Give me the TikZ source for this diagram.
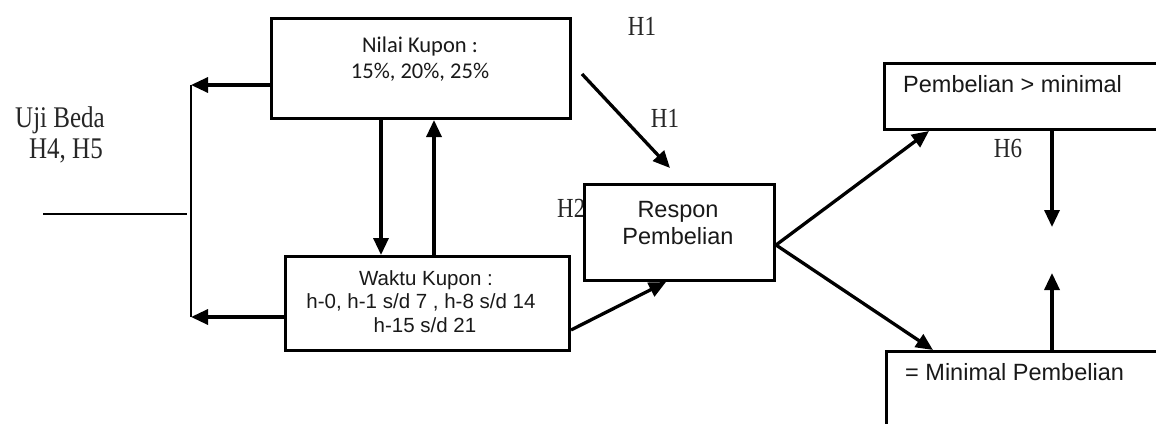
\documentclass[tikz,border=0pt]{standalone}
\usepackage{fontspec}
\setmainfont{Liberation Serif}
\newfontfamily\arialf{Liberation Sans}
\newfontfamily\calibf{Carlito}
\usetikzlibrary{arrows.meta}

\begin{document}
\begin{tikzpicture}[x=1pt,y=-1pt,
  box/.style={draw,line width=3pt,fill=white,inner sep=0pt,anchor=north west},
  arr/.style={line width=3.3pt,-{Triangle[length=17pt,width=15pt]}},
  plain/.style={line width=2.6pt},
  boxtext/.style={font=\arialf\fontsize{23.5}{27}\selectfont,text=black!90,inner sep=0pt,anchor=base},
  nilaitext/.style={font=\calibf\fontsize{22.5}{26}\selectfont,text=black!90,inner sep=0pt,anchor=base},
  waktutext/.style={font=\arialf\fontsize{20.5}{24}\selectfont,text=black!90,inner sep=0pt,anchor=base},
  hlabel/.style={font=\fontsize{23}{28}\selectfont,text=black!85,inner sep=0pt,anchor=base,yscale=1.2,transform shape}]

\useasboundingbox (0,0) rectangle (1156,423);
\fill[white] (0,0) rectangle (1156,423);
\clip (0,0) rectangle (1156,423);

% labels lying under the boxes
\node[hlabel,anchor=base west] (h2) at (557,217) {H2};

% boxes
\node[box,minimum width=299pt,minimum height=100pt] (nilai) at (270,17) {};
\node[box,minimum width=284pt,minimum height=94pt] (waktu) at (284,255) {};
\node[box,minimum width=190pt,minimum height=96pt] (resp) at (583,183) {};
\node[box,minimum width=300pt,minimum height=66pt] (pemb) at (883,62) {};
\node[box,minimum width=300pt,minimum height=80pt] (minim) at (885,350) {};

% box texts
\node[nilaitext] (nilai1) at (420,52) {Nilai Kupon :};
\node[nilaitext] (nilai2) at (420,78) {15\%, 20\%, 25\%};
\node[waktutext] (waktu1) at (426,285) {Waktu Kupon :};
\node[waktutext] (waktu2) at (421,308) {h-0, h-1 s/d 7 , h-8 s/d 14};
\node[waktutext] (waktu3) at (425,332) {h-15 s/d 21};
\node[boxtext] (resp1) at (678,217) {Respon};
\node[boxtext] (resp2) at (678,244) {Pembelian};
\node[boxtext,anchor=base west] (pemb1) at (903,92) {Pembelian > minimal};
\node[boxtext,anchor=base west] (minim1) at (905,380) {= Minimal Pembelian};

% free labels
\node[hlabel,font=\fontsize{25}{29}\selectfont] (uji1) at (60,127) {Uji Beda};
\node[hlabel,font=\fontsize{25}{29}\selectfont] (uji2) at (66,158) {H4, H5};
\node[hlabel] (h1a) at (642,35) {H1};
\node[hlabel] (h1b) at (665,127) {H1};
\node[hlabel] (h6) at (1008,157) {H6};

% helper points
\coordinate (ltop) at (191,85);
\coordinate (lbot) at (191,317);
\coordinate (ua) at (43,214);
\coordinate (ub) at (187,214);
\coordinate (xdown) at (381,0);
\coordinate (xup) at (434,0);
\coordinate (h1s) at (582,74);
\coordinate (h1e) at (670,168);
\coordinate (wy) at (0,330);
\coordinate (wx) at (666,0);
\coordinate (ry) at (0,245);
\coordinate (px) at (929,0);
\coordinate (mx) at (933,0);
\coordinate (rx) at (1052,0);
\coordinate (pdown) at (1052,227);
\coordinate (mup) at (1052,273);

% left bracket
\draw[arr] (nilai.north west |- ltop) -- (ltop);
\draw[arr] (waktu.west |- lbot) -- (lbot);
\draw[plain] (ltop) -- (lbot);
\draw[plain] (ua) -- (ub);

% between the two coupon boxes
\draw[arr] (nilai.south -| xdown) -- (waktu.north -| xdown);
\draw[arr] (waktu.north -| xup) -- (nilai.south -| xup);

% into the response box
\draw[arr] (h1s) -- (h1e);
\draw[arr] (waktu.east |- wy) -- (resp.south -| wx);

% out of the response box
\draw[arr] (resp.east |- ry) -- (pemb.south -| px);
\draw[arr] (resp.east |- ry) -- (minim.north -| mx);

% between the two purchase boxes
\draw[arr] (pemb.south -| rx) -- (pdown);
\draw[arr] (minim.north -| rx) -- (mup);
\end{tikzpicture}
\end{document}
